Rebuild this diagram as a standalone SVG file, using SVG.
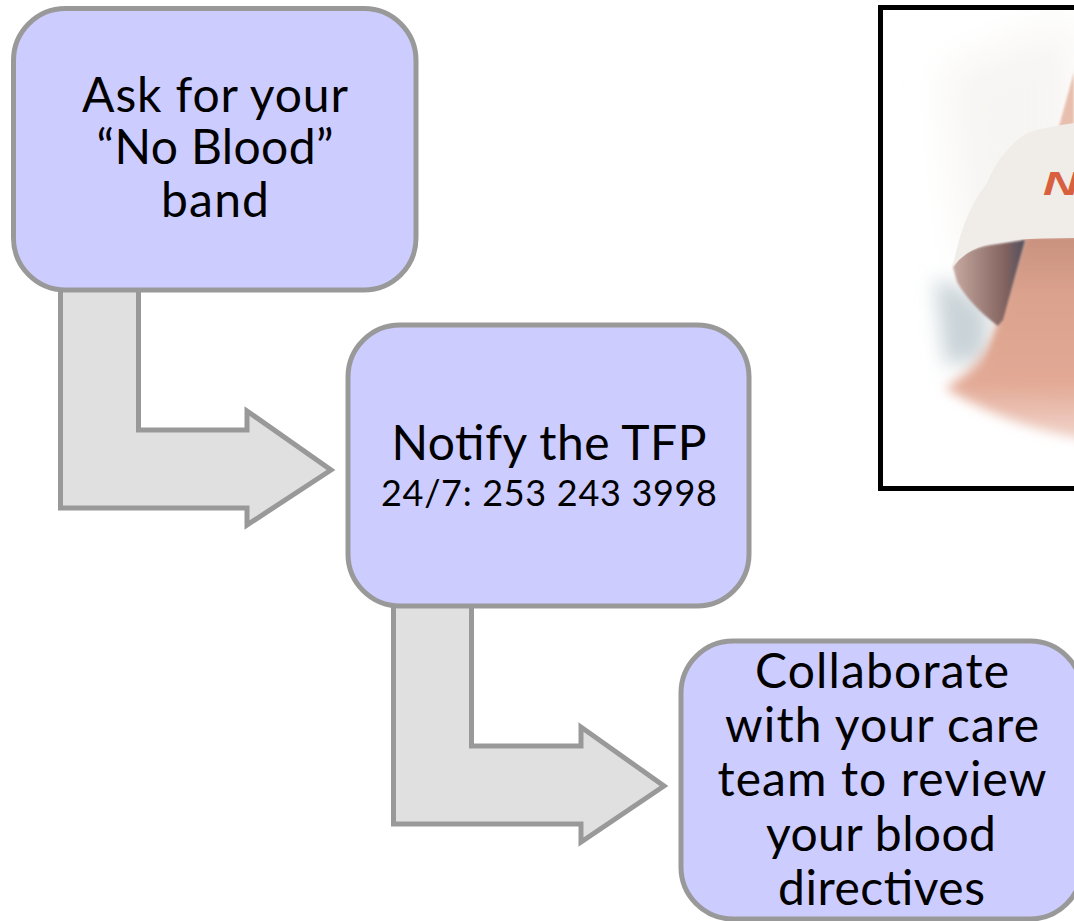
<svg xmlns="http://www.w3.org/2000/svg" width="1074" height="921" viewBox="0 0 1074 921">
<style>
.node{fill:#ccccff;stroke:#999999;stroke-width:5}
.arrow{fill:#e0e0e0;stroke:#999999;stroke-width:5;stroke-linejoin:miter}
.t{font-family:"Lato","Noto Sans",sans-serif;font-size:48px;fill:#000;text-anchor:middle}
.s{font-size:36px}
</style>
<defs>
<clipPath id="photoClip"><rect x="883" y="10" width="191" height="476"/></clipPath>
<filter id="b2" x="-30%" y="-30%" width="160%" height="160%"><feGaussianBlur stdDeviation="1"/></filter>
<filter id="b3" x="-30%" y="-30%" width="160%" height="160%"><feGaussianBlur stdDeviation="3"/></filter>
<filter id="b6" x="-30%" y="-30%" width="160%" height="160%"><feGaussianBlur stdDeviation="6"/></filter>
<filter id="b10" x="-50%" y="-50%" width="200%" height="200%"><feGaussianBlur stdDeviation="10"/></filter>
<filter id="b20" x="-50%" y="-50%" width="200%" height="200%"><feGaussianBlur stdDeviation="20"/></filter>
<linearGradient id="arm" gradientUnits="userSpaceOnUse" x1="0" y1="238" x2="0" y2="430"><stop offset="0" stop-color="#c9927e"/><stop offset="0.3" stop-color="#dba38e"/><stop offset="0.75" stop-color="#e2a995"/><stop offset="1" stop-color="#efcdc2"/></linearGradient>
<linearGradient id="inner" gradientUnits="userSpaceOnUse" x1="955" y1="0" x2="1026" y2="0"><stop offset="0" stop-color="#c4a79f"/><stop offset="0.7" stop-color="#83635f"/><stop offset="1" stop-color="#4f4f5e"/></linearGradient>
</defs>
<g id="photo">
<rect x="880.500" y="7.500" width="200" height="481" fill="#ffffff" stroke="#000000" stroke-width="5"/>
<g clip-path="url(#photoClip)">
<path d="M945 70L1074 20V260H965Z" fill="#f7f5f3" filter="url(#b20)"/>
<path d="M935 280Q960 280 990 315L985 360L945 365Z" fill="#c9d3d8" filter="url(#b10)"/>
<path d="M1058 130L1074 72V130Z" fill="#e8bfae" filter="url(#b2)"/>
<path d="M1025 236H1090V440Q1010 428 945 388Q985 365 998 327Z" fill="url(#arm)" filter="url(#b6)"/>
<path d="M1025 236H1090V400Q1030 395 985 375Q990 350 998 327Z" fill="url(#arm)" filter="url(#b3)"/>
<path d="M953 267Q960 250 990 245L1025 240L1003 320L998 326Q970 305 957 282Z" fill="url(#inner)" filter="url(#b2)"/>
<path d="M953 267Q962 215 987 183Q1000 150 1027 133Q1045 127 1074 123V238Q1040 238 1013 240Q970 243 953 267Z" fill="#f0ece8"/>
<text x="1043" y="195" font-family="Liberation Sans" font-weight="700" font-style="italic" font-size="33" textLength="36" lengthAdjust="spacingAndGlyphs" fill="#d9603f">N</text>
</g>
</g>
<g id="connectors">
<path class="arrow" d="M60.500 285V508H247V525L331 470L247 411V430H138.500V285Z"/>
<path class="arrow" d="M393.500 601V824H581V842L664 786L581 727V746H471.500V601Z"/>
</g>
<g id="node-ask">
<rect class="node" x="13.500" y="8.500" width="402.500" height="281.500" rx="52"/>
<text class="t" x="215" y="112" textLength="266">Ask for your</text>
<text class="t" x="215" y="164" textLength="237">“No Blood”</text>
<text class="t" x="215" y="217" textLength="108">band</text>
</g>
<g id="node-notify">
<rect class="node" x="348" y="325" width="401" height="281" rx="52"/>
<text class="t" x="549" y="460" textLength="315">Notify the TFP</text>
<text class="t s" x="549" y="506" textLength="336">24/7: 253 243 3998</text>
</g>
<g id="node-collaborate">
<rect class="node" x="681" y="641" width="401" height="278" rx="52"/>
<text class="t" x="882" y="688" textLength="254">Collaborate</text>
<text class="t" x="882" y="742" textLength="314">with your care</text>
<text class="t" x="882" y="796" textLength="329">team to review</text>
<text class="t" x="881" y="851" textLength="230">your blood</text>
<text class="t" x="881.500" y="905" textLength="207">directives</text>
</g>
</svg>
